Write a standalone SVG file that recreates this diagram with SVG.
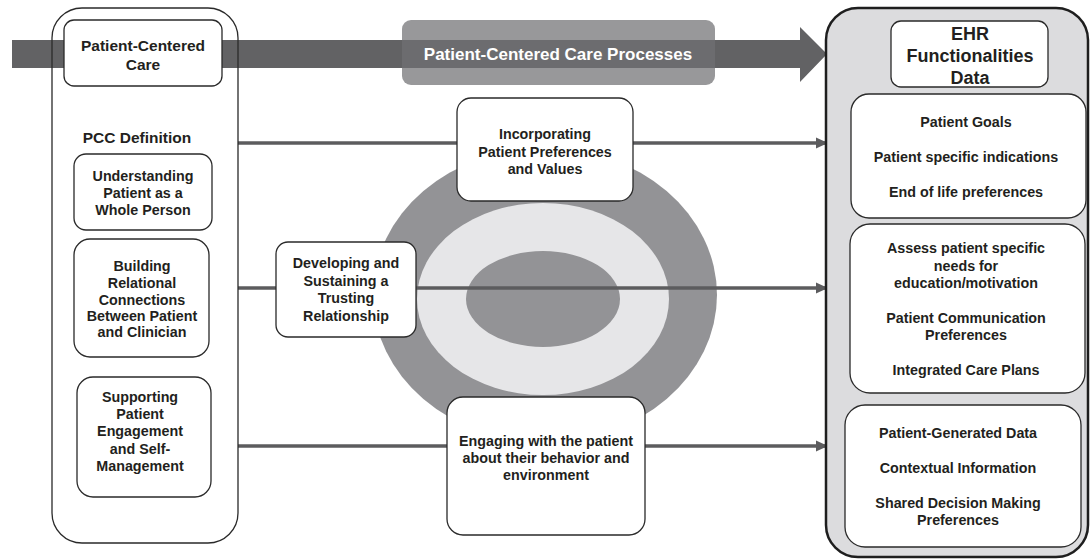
<svg xmlns="http://www.w3.org/2000/svg" width="1090" height="560" viewBox="0 0 1090 560">
<defs>
<style>
.t{font-family:"Liberation Sans",Arial,sans-serif;font-weight:bold;fill:#231f20;text-anchor:middle;font-size:14.3px}
.box{fill:#fff;stroke:#2a2a2a;stroke-width:1.3}
.conn{stroke:#5c5c5e;stroke-width:3.5;fill:none;marker-end:url(#ah)}
</style>
<marker id="ah" markerUnits="userSpaceOnUse" markerWidth="12" markerHeight="12" refX="12" refY="6" orient="auto">
<path d="M0,0.5 L12,6 L0,11.5 z" fill="#5c5c5e"/>
</marker>
</defs>
<rect width="1090" height="560" fill="#fff"/>

<g id="background-arrow">
<path d="M12,40 H800 V27 L827,54 L800,82 V68 H12 z" fill="#626264"/>
</g>

<g id="process-label">
<rect x="402" y="20" width="313" height="65" rx="9" fill="#707073" fill-opacity="0.72"/>
<text x="558" y="60" class="t" style="fill:#fff;font-size:17px">Patient-Centered Care Processes</text>
</g>

<g id="ellipses">
<ellipse cx="545" cy="295" rx="172" ry="147" fill="#939396"/>
<ellipse cx="543" cy="299" rx="126" ry="96" fill="#e6e6e8"/>
<ellipse cx="543" cy="299" rx="77" ry="48" fill="#939396"/>
</g>

<g id="connectors">
<line class="conn" x1="238" y1="143" x2="828" y2="143"/>
<line class="conn" x1="238" y1="288" x2="828" y2="288"/>
<line class="conn" x1="238" y1="446" x2="828" y2="446"/>
</g>

<g id="pcc-container">
<rect x="52" y="8" width="186" height="535" rx="30" fill="none" stroke="#2a2a2a" stroke-width="1.3"/>
</g>

<g id="pcc-title">
<rect class="box" x="64" y="20" width="158" height="66" rx="10"/>
<text class="t" x="143" y="51" style="font-size:15.5px">Patient-Centered</text>
<text class="t" x="143" y="70" style="font-size:15.5px">Care</text>
</g>

<g id="pcc-definition">
<text class="t" x="137" y="143" style="font-size:15.5px">PCC Definition</text>
</g>

<g id="understanding">
<rect class="box" x="74" y="154" width="138" height="76" rx="12"/>
<text class="t" x="143" y="181">Understanding</text>
<text class="t" x="143" y="198">Patient as a</text>
<text class="t" x="143" y="215">Whole Person</text>
</g>

<g id="building">
<rect class="box" x="74" y="239" width="135" height="118" rx="16"/>
<text class="t" x="142" y="271">Building</text>
<text class="t" x="142" y="288">Relational</text>
<text class="t" x="142" y="304.5">Connections</text>
<text class="t" x="142" y="321">Between Patient</text>
<text class="t" x="142" y="337">and Clinician</text>
</g>

<g id="supporting">
<rect class="box" x="77" y="377" width="134" height="120" rx="16"/>
<text class="t" x="140" y="402">Supporting</text>
<text class="t" x="140" y="419">Patient</text>
<text class="t" x="140" y="436">Engagement</text>
<text class="t" x="140" y="454">and Self-</text>
<text class="t" x="140" y="471">Management</text>
</g>

<g id="incorporating">
<rect class="box" x="457" y="98" width="176" height="103" rx="14"/>
<text class="t" x="545" y="139">Incorporating</text>
<text class="t" x="545" y="157">Patient Preferences</text>
<text class="t" x="545" y="174">and Values</text>
</g>

<g id="developing">
<rect class="box" x="276" y="242" width="140" height="95" rx="12"/>
<text class="t" x="346" y="268">Developing and</text>
<text class="t" x="346" y="286">Sustaining a</text>
<text class="t" x="346" y="303">Trusting</text>
<text class="t" x="346" y="321">Relationship</text>
</g>

<g id="engaging">
<rect class="box" x="447" y="397" width="198" height="138" rx="16"/>
<text class="t" x="546" y="446">Engaging with the patient</text>
<text class="t" x="546" y="463">about their behavior and</text>
<text class="t" x="546" y="480">environment</text>
</g>

<g id="ehr-container">
<rect x="826" y="8" width="262" height="549" rx="32" fill="#dcdcde" stroke="#1e1e1e" stroke-width="2.5"/>
</g>

<g id="ehr-title">
<rect class="box" x="891" y="21" width="157" height="66" rx="10"/>
<text class="t" x="970" y="39.5" style="font-size:18px">EHR</text>
<text class="t" x="970" y="61.5" style="font-size:18px">Functionalities</text>
<text class="t" x="970" y="83.5" style="font-size:18px">Data</text>
</g>

<g id="ehr-box1">
<rect class="box" x="851" y="94" width="235" height="124" rx="18"/>
<text class="t" x="966" y="127">Patient Goals</text>
<text class="t" x="966" y="162">Patient specific indications</text>
<text class="t" x="966" y="197">End of life preferences</text>
</g>

<g id="ehr-box2">
<rect class="box" x="850" y="224" width="235" height="169" rx="20"/>
<text class="t" x="966" y="253">Assess patient specific</text>
<text class="t" x="966" y="271">needs for</text>
<text class="t" x="966" y="288">education/motivation</text>
<text class="t" x="966" y="323">Patient Communication</text>
<text class="t" x="966" y="340">Preferences</text>
<text class="t" x="966" y="375">Integrated Care Plans</text>
</g>

<g id="ehr-box3">
<rect class="box" x="845" y="405" width="236" height="142" rx="20"/>
<text class="t" x="958" y="438">Patient-Generated Data</text>
<text class="t" x="958" y="473">Contextual Information</text>
<text class="t" x="958" y="508">Shared Decision Making</text>
<text class="t" x="958" y="525">Preferences</text>
</g>
</svg>
